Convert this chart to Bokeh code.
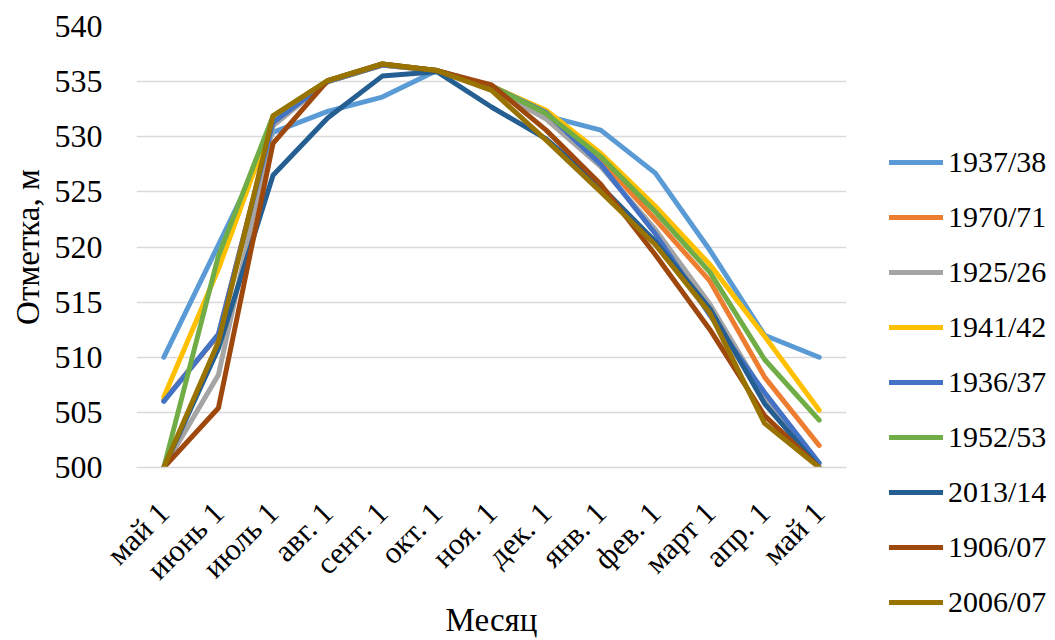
import math
from bokeh.plotting import figure
from bokeh.layouts import row
from bokeh.models import Range1d, FixedTicker, Legend, LegendItem
from bokeh.embed import file_html
from bokeh.resources import INLINE

# Reservoir level (m) on the first day of each month, by water year
months = ["май 1", "июнь 1", "июль 1", "авг. 1", "сент. 1", "окт. 1", "ноя. 1",
          "дек. 1", "янв. 1", "фев. 1", "март 1", "апр. 1", "май 1"]

s_1937_38 = [510.0, 520.2, 530.4, 532.3, 533.6, 536.0, 534.5, 531.9, 530.6, 526.7, 519.7, 512.0, 510.0]
s_1970_71 = [506.1, 512.0, 531.5, 535.0, 536.5, 536.0, 534.6, 532.2, 527.9, 522.5, 516.9, 508.2, 502.0]
s_1925_26 = [500.0, 508.4, 531.0, 535.0, 536.5, 536.0, 534.4, 531.6, 527.3, 521.6, 514.8, 506.5, 500.0]
s_1941_42 = [506.4, 518.0, 531.6, 535.0, 536.5, 536.0, 534.6, 532.4, 528.5, 523.7, 518.4, 511.9, 505.2]
s_1936_37 = [506.0, 512.1, 531.3, 535.0, 536.5, 536.0, 534.6, 532.2, 527.5, 521.2, 513.8, 506.8, 500.4]
s_1952_53 = [500.0, 519.2, 531.9, 535.1, 536.6, 536.0, 534.6, 532.1, 528.2, 523.2, 517.7, 509.8, 504.3]
s_2013_14 = [500.0, 510.8, 526.5, 531.7, 535.5, 535.9, 532.7, 529.8, 525.5, 520.5, 514.4, 505.8, 500.0]
s_1906_07 = [500.0, 505.4, 529.4, 535.1, 536.6, 536.0, 534.7, 530.6, 525.7, 519.3, 512.5, 504.7, 500.0]
s_2006_07 = [500.0, 511.4, 531.9, 535.1, 536.6, 536.0, 534.2, 529.7, 525.0, 520.2, 514.0, 504.0, 500.0]

series_names = ["1937/38", "1970/71", "1925/26", "1941/42", "1936/37",
                "1952/53", "2013/14", "1906/07", "2006/07"]
series_values = [s_1937_38, s_1970_71, s_1925_26, s_1941_42, s_1936_37,
                 s_1952_53, s_2013_14, s_1906_07, s_2006_07]
colors = ["#5B9BD5", "#ED7D31", "#A5A5A5", "#FFC000", "#4472C4",
          "#70AD47", "#255E91", "#9E480E", "#997300"]

y_ticks = [500, 505, 510, 515, 520, 525, 530, 535, 540]

FONT = "Liberation Serif"
LINE_W = 5
x = list(range(len(months)))

# ---- main chart ----
p = figure(width=880, height=640, output_backend="svg", toolbar_location=None,
           x_range=Range1d(-0.5, len(months) - 0.5), y_range=Range1d(500, 540),
           min_border_left=136, min_border_right=34, min_border_top=26,
           min_border_bottom=172)
p.outline_line_color = None
p.background_fill_color = "white"
p.border_fill_color = "white"

p.xgrid.grid_line_color = None
p.ygrid.grid_line_color = "#D9D9D9"
p.ygrid.grid_line_width = 1.5
p.ygrid.ticker = FixedTicker(ticks=y_ticks)

p.yaxis.ticker = FixedTicker(ticks=y_ticks)
p.yaxis.axis_line_color = None
p.yaxis.major_tick_line_color = None
p.yaxis.minor_tick_line_color = None
p.yaxis.major_label_text_font = FONT
p.yaxis.major_label_text_font_size = "32px"
p.yaxis.major_label_text_color = "black"
p.yaxis.major_label_standoff = 28
p.yaxis.axis_label = "Отметка, м"
p.yaxis.axis_label_text_font = FONT
p.yaxis.axis_label_text_font_size = "33px"
p.yaxis.axis_label_text_font_style = "normal"
p.yaxis.axis_label_text_color = "black"
p.yaxis.axis_label_standoff = 6

p.xaxis.ticker = FixedTicker(ticks=x)
p.xaxis.major_label_overrides = {i: m for i, m in enumerate(months)}
p.xaxis.axis_line_color = "#D9D9D9"
p.xaxis.axis_line_width = 1.5
p.xaxis.major_tick_line_color = None
p.xaxis.minor_tick_line_color = None
p.xaxis.major_label_orientation = math.pi / 4
p.xaxis.major_label_text_font = FONT
p.xaxis.major_label_text_font_size = "31px"
p.xaxis.major_label_text_color = "black"
p.xaxis.major_label_standoff = 34
p.xaxis.axis_label = "Месяц"
p.xaxis.axis_label_text_font = FONT
p.xaxis.axis_label_text_font_size = "33px"
p.xaxis.axis_label_text_font_style = "normal"
p.xaxis.axis_label_text_color = "black"
p.xaxis.axis_label_standoff = 0

for vals, col in zip(series_values, colors):
    p.line(x, vals, line_color=col, line_width=LINE_W,
           line_cap="round", line_join="round")

# ---- legend panel ----
lg = figure(width=175, height=640, output_backend="svg", toolbar_location=None,
            x_range=Range1d(0, 1), y_range=Range1d(0, 1),
            min_border_left=0, min_border_right=0, min_border_top=0,
            min_border_bottom=0)
lg.frame_align = False
lg.axis.visible = False
lg.grid.visible = False
lg.outline_line_color = None
lg.background_fill_color = "white"
lg.border_fill_color = "white"

items = []
for name, col in zip(series_names, colors):
    # placeholder renderer kept outside the visible range; only its swatch shows
    r = lg.line([-10, -9], [-10, -9], line_color=col, line_width=LINE_W,
                line_cap="round")
    items.append(LegendItem(label=name, renderers=[r]))

legend = Legend(items=items, location=(9, 18))
legend.label_text_font = FONT
legend.label_text_font_size = "30px"
legend.label_text_color = "black"
legend.glyph_width = 54
legend.glyph_height = 40
legend.label_height = 40
legend.label_standoff = 5
legend.spacing = 15
legend.padding = 0
legend.margin = 0
legend.border_line_color = None
legend.background_fill_alpha = 0
lg.add_layout(legend)

layout = row(p, lg, spacing=0)
open("out.html", "w").write(file_html(layout, INLINE))
